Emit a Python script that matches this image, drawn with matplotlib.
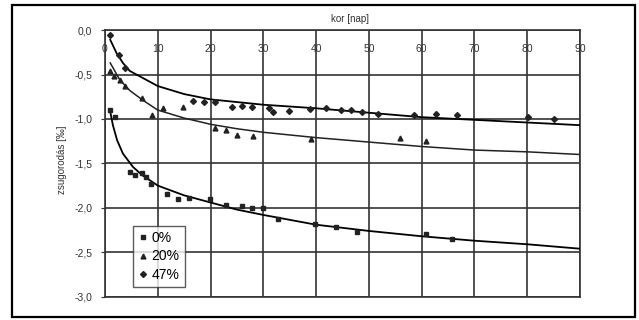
import matplotlib
matplotlib.use("Agg")
import matplotlib.pyplot as plt
from matplotlib.patches import Rectangle

# Measured points
x0 = [1, 1.9, 4.7, 5.7, 7, 7.8, 8.7, 11.7, 13.8, 15.9, 19.9, 23, 25.9, 27.9, 30, 32.8, 39.8, 43.7, 47.8, 60.8, 65.8]
y0 = [-0.90, -0.98, -1.60, -1.63, -1.61, -1.65, -1.73, -1.84, -1.90, -1.89, -1.90, -1.97, -1.98, -2.00, -2.00, -2.13, -2.18, -2.22, -2.27, -2.29, -2.35]

x20 = [1, 1.8, 2.8, 3.8, 7, 8.9, 10.9, 14.8, 20.9, 23, 25, 28, 39, 55.8, 60.8]
y20 = [-0.46, -0.52, -0.56, -0.63, -0.76, -0.95, -0.88, -0.86, -1.10, -1.12, -1.18, -1.19, -1.22, -1.21, -1.25]

x47 = [1, 2.6, 3.8, 16.7, 18.8, 20.8, 24, 26, 27.8, 31, 31.8, 34.8, 38.8, 41.8, 44.8, 46.7, 48.6, 51.8, 58.6, 62.7, 66.7, 80.2, 85]
y47 = [-0.05, -0.28, -0.43, -0.80, -0.81, -0.81, -0.86, -0.85, -0.87, -0.88, -0.92, -0.91, -0.89, -0.88, -0.90, -0.90, -0.92, -0.94, -0.96, -0.94, -0.96, -0.98, -1.00]

# Trend lines
lx0 = [1, 1.5, 2.3, 3.4, 5.3, 7, 10, 15, 20, 25, 30, 40, 50, 60, 70, 80, 90]
ly0 = [-0.92, -1.07, -1.24, -1.39, -1.54, -1.63, -1.75, -1.86, -1.94, -2.02, -2.08, -2.19, -2.26, -2.32, -2.37, -2.41, -2.46]

lx20 = [1, 2.8, 4.7, 7.2, 10, 15, 20, 25, 30, 40, 50, 60, 70, 80, 90]
ly20 = [-0.37, -0.56, -0.68, -0.79, -0.90, -0.99, -1.06, -1.11, -1.15, -1.21, -1.26, -1.31, -1.35, -1.37, -1.40]

lx47 = [1, 2.2, 3.4, 4.7, 7.2, 10, 15, 20, 30, 40, 50, 60, 70, 80, 90]
ly47 = [-0.11, -0.26, -0.37, -0.46, -0.54, -0.63, -0.72, -0.78, -0.84, -0.88, -0.93, -0.98, -1.01, -1.04, -1.07]

xticks = [0, 10, 20, 30, 40, 50, 60, 70, 80, 90]
yticks = [0.0, -0.5, -1.0, -1.5, -2.0, -2.5, -3.0]
ytick_labels = ["0,0", "-0,5", "-1,0", "-1,5", "-2,0", "-2,5", "-3,0"]
labels = ["0%", "20%", "47%"]

plt.rcParams['font.family'] = ['Liberation Sans', 'DejaVu Sans']

fig = plt.figure(figsize=(6.39, 3.2), dpi=100)
fig.patches.append(Rectangle((0.0188, 0.009), 0.975, 0.975, transform=fig.transFigure,
                             fill=False, edgecolor='black', linewidth=1.6))

ax = fig.add_axes([0.1643, 0.0728, 0.7434, 0.8332])
ax.set_xlim(0, 90)
ax.set_ylim(-3.0, 0.0)

gc = '#333333'
ax.set_xticks(xticks)
ax.set_yticks(yticks)
ax.set_yticklabels(ytick_labels, fontsize=7.5, color='#333333')
ax.set_xticklabels([str(t) for t in xticks], fontsize=7.5, color='#333333')
ax.tick_params(axis='x', direction='in', length=0, pad=-17, labeltop=True, labelbottom=False)
ax.tick_params(axis='y', length=3, color=gc, pad=6)
ax.grid(True, color=gc, linewidth=1.2)
for s in ax.spines.values():
    s.set_color(gc)
    s.set_linewidth(1.2)

ax.plot(lx0, ly0, color='black', lw=1.3, zorder=3)
ax.plot(lx20, ly20, color='#222222', lw=1.1, zorder=3)
ax.plot(lx47, ly47, color='black', lw=1.3, zorder=3)

h0, = ax.plot(x0, y0, 's', color='#222222', ms=3.5, ls='none', zorder=4)
h20, = ax.plot(x20, y20, '^', color='#222222', ms=3.5, ls='none', zorder=4)
h47, = ax.plot(x47, y47, 'D', color='#222222', ms=3, ls='none', zorder=4)

leg = ax.legend([h0, h20, h47], labels, loc='lower left', bbox_to_anchor=(0.045, 0.01),
                fontsize=10, frameon=True, fancybox=False, handlelength=0.6,
                handletextpad=0.3, borderpad=0.4, labelspacing=0.3, markerscale=1.0)
leg.get_frame().set_edgecolor('#333333')
leg.get_frame().set_linewidth(1.0)

fig.text(350 / 639, 1 - 19 / 320, "kor [nap]", fontsize=7, ha='center', va='center', color='#333333')
fig.text(62 / 639, 0.5, "zsugorodás [‰]", fontsize=7, rotation=90, ha='center', va='center', color='#333333')

fig.savefig("out.png", dpi=100)
